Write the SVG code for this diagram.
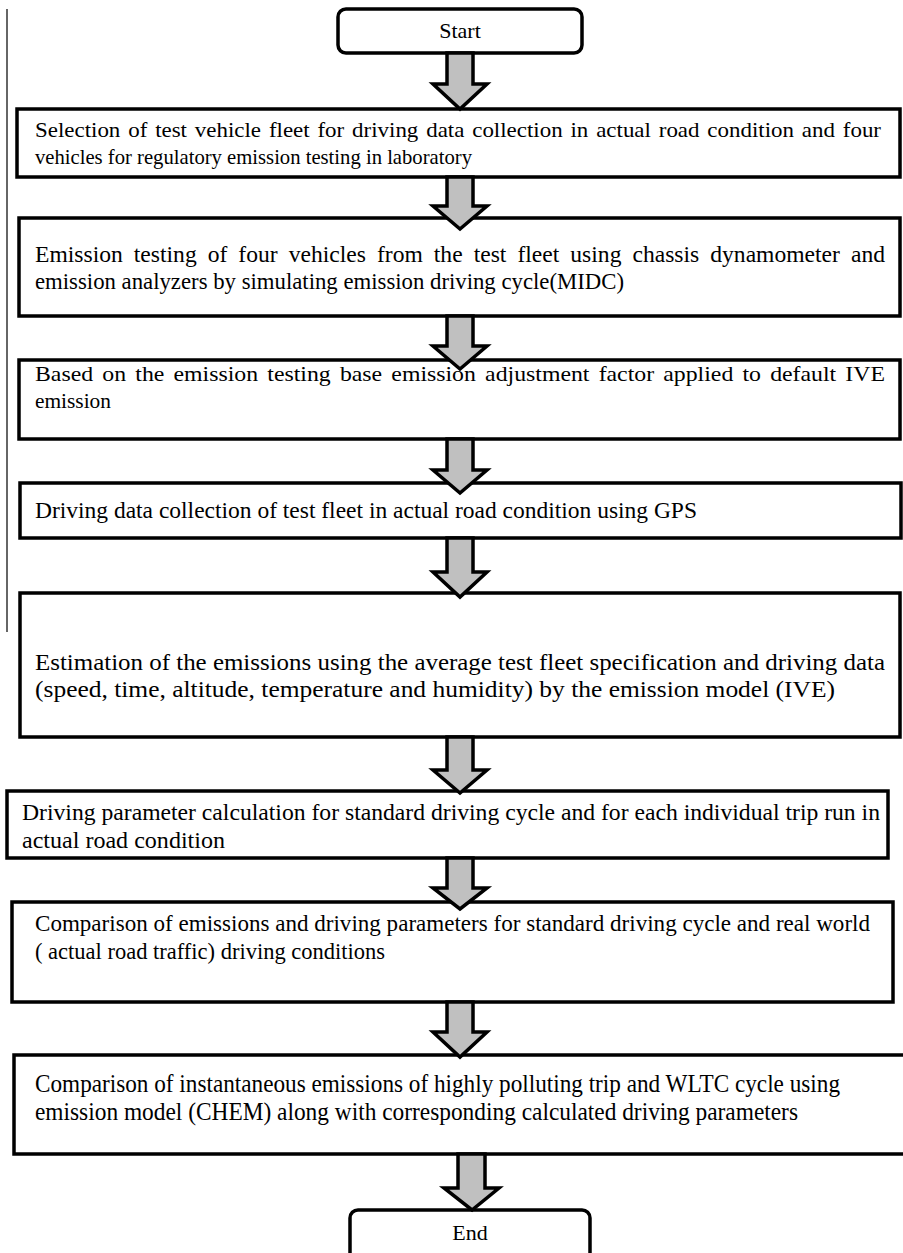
<svg xmlns="http://www.w3.org/2000/svg" width="903" height="1253" viewBox="0 0 903 1253">
<style>
.box{fill:#fff;stroke:#000;stroke-width:3.5}
.term{fill:#fff;stroke:#000;stroke-width:3.5}
.arr{fill:#c0c0c0;stroke:#000;stroke-width:3.5;stroke-linejoin:miter}
text{font-family:"Liberation Serif","Times New Roman",serif;font-size:22px;fill:#000}
.c{text-anchor:middle}
.f21{font-size:21.5px}
.f23{font-size:23px}
.f225{font-size:22.5px}
.f25{font-size:25px}
</style>
<rect width="903" height="1253" fill="#fff"/>
<line x1="7" y1="9" x2="7" y2="632" stroke="#666" stroke-width="2"/>
<g id="start"><rect class="term" x="338" y="9" width="244" height="44" rx="8"/><text class="c" x="460" y="38">Start</text></g>
<g id="n1"><rect class="box" x="17" y="109" width="883" height="68"/>
<text class="f21" x="35" y="137" style="word-spacing:2px" textLength="846" lengthAdjust="spacingAndGlyphs">Selection of test vehicle fleet for driving data collection in actual road condition and  four</text>
<text class="f21" x="35" y="164" textLength="437" lengthAdjust="spacingAndGlyphs">vehicles for regulatory emission testing in laboratory</text></g>
<g id="n2"><rect class="box" x="19" y="218" width="881" height="98"/>
<text class="f23" x="35" y="262" style="word-spacing:5px" textLength="850" lengthAdjust="spacingAndGlyphs">Emission testing of four vehicles from the test fleet using chassis dynamometer and</text>
<text class="f23" x="35" y="289" textLength="589" lengthAdjust="spacingAndGlyphs">emission analyzers by simulating emission driving cycle(MIDC)</text></g>
<g id="n3"><rect class="box" x="19" y="360" width="881" height="79"/>
<text x="35" y="381" style="word-spacing:3px" textLength="850" lengthAdjust="spacingAndGlyphs">Based on the emission testing base emission adjustment factor applied to default IVE</text>
<text x="35" y="408" textLength="76" lengthAdjust="spacingAndGlyphs">emission</text></g>
<g id="n4"><rect class="box" x="20" y="483" width="881" height="55"/>
<text class="f23" x="35" y="518" textLength="662" lengthAdjust="spacingAndGlyphs">Driving data collection of test fleet in actual road condition using GPS</text></g>
<g id="n5"><rect class="box" x="20" y="593" width="880" height="144"/>
<text class="f23" x="35" y="670" textLength="850" lengthAdjust="spacingAndGlyphs">Estimation of the emissions using the average test fleet specification and driving data</text>
<text class="f23" x="35" y="697" textLength="800" lengthAdjust="spacingAndGlyphs">(speed, time, altitude, temperature and humidity) by the emission model (IVE)</text></g>
<g id="n6"><rect class="box" x="7" y="791" width="881" height="67"/>
<text class="f23" x="22" y="820" textLength="858" lengthAdjust="spacingAndGlyphs">Driving parameter calculation for standard driving cycle and for each individual trip run in</text>
<text class="f23" x="22" y="848" textLength="203" lengthAdjust="spacingAndGlyphs">actual road condition</text></g>
<g id="n7"><rect class="box" x="12" y="902" width="881" height="100"/>
<text class="f225" x="35" y="931" textLength="835" lengthAdjust="spacingAndGlyphs">Comparison of emissions and driving parameters for standard driving cycle and real world</text>
<text class="f225" x="35" y="959" textLength="350" lengthAdjust="spacingAndGlyphs">( actual road traffic) driving conditions</text></g>
<g id="n8"><rect class="box" x="14" y="1055" width="895" height="99"/>
<text class="f25" x="35" y="1092" textLength="805" lengthAdjust="spacingAndGlyphs">Comparison of instantaneous emissions of highly polluting trip and WLTC cycle using</text>
<text class="f25" x="35" y="1120" textLength="763" lengthAdjust="spacingAndGlyphs">emission model (CHEM) along with corresponding calculated driving parameters</text></g>
<g id="end"><rect class="term" x="350" y="1210" width="240" height="52" rx="8"/><text class="c" x="470" y="1240">End</text></g>
<g id="connectors">
<polygon class="arr" points="447,53 473,53 473,84 487,84 460,109 433,84 447,84"/>
<polygon class="arr" points="447,177 473,177 473,206 487,206 460,229 433,206 447,206"/>
<polygon class="arr" points="447,316 473,316 473,346 487,346 460,369 433,346 447,346"/>
<polygon class="arr" points="447,439 473,439 473,470 487,470 460,493 433,470 447,470"/>
<polygon class="arr" points="447,538 473,538 473,572 487,572 460,597 433,572 447,572"/>
<polygon class="arr" points="447,737 473,737 473,770 487,770 460,793 433,770 447,770"/>
<polygon class="arr" points="447,858 473,858 473,888 487,888 460,909 433,888 447,888"/>
<polygon class="arr" points="447,1002 473,1002 473,1032 487,1032 460,1057 433,1032 447,1032"/>
<polygon class="arr" points="458,1154 485,1154 485,1188 499,1188 472,1210 444,1188 458,1188"/>
</g>
</svg>
